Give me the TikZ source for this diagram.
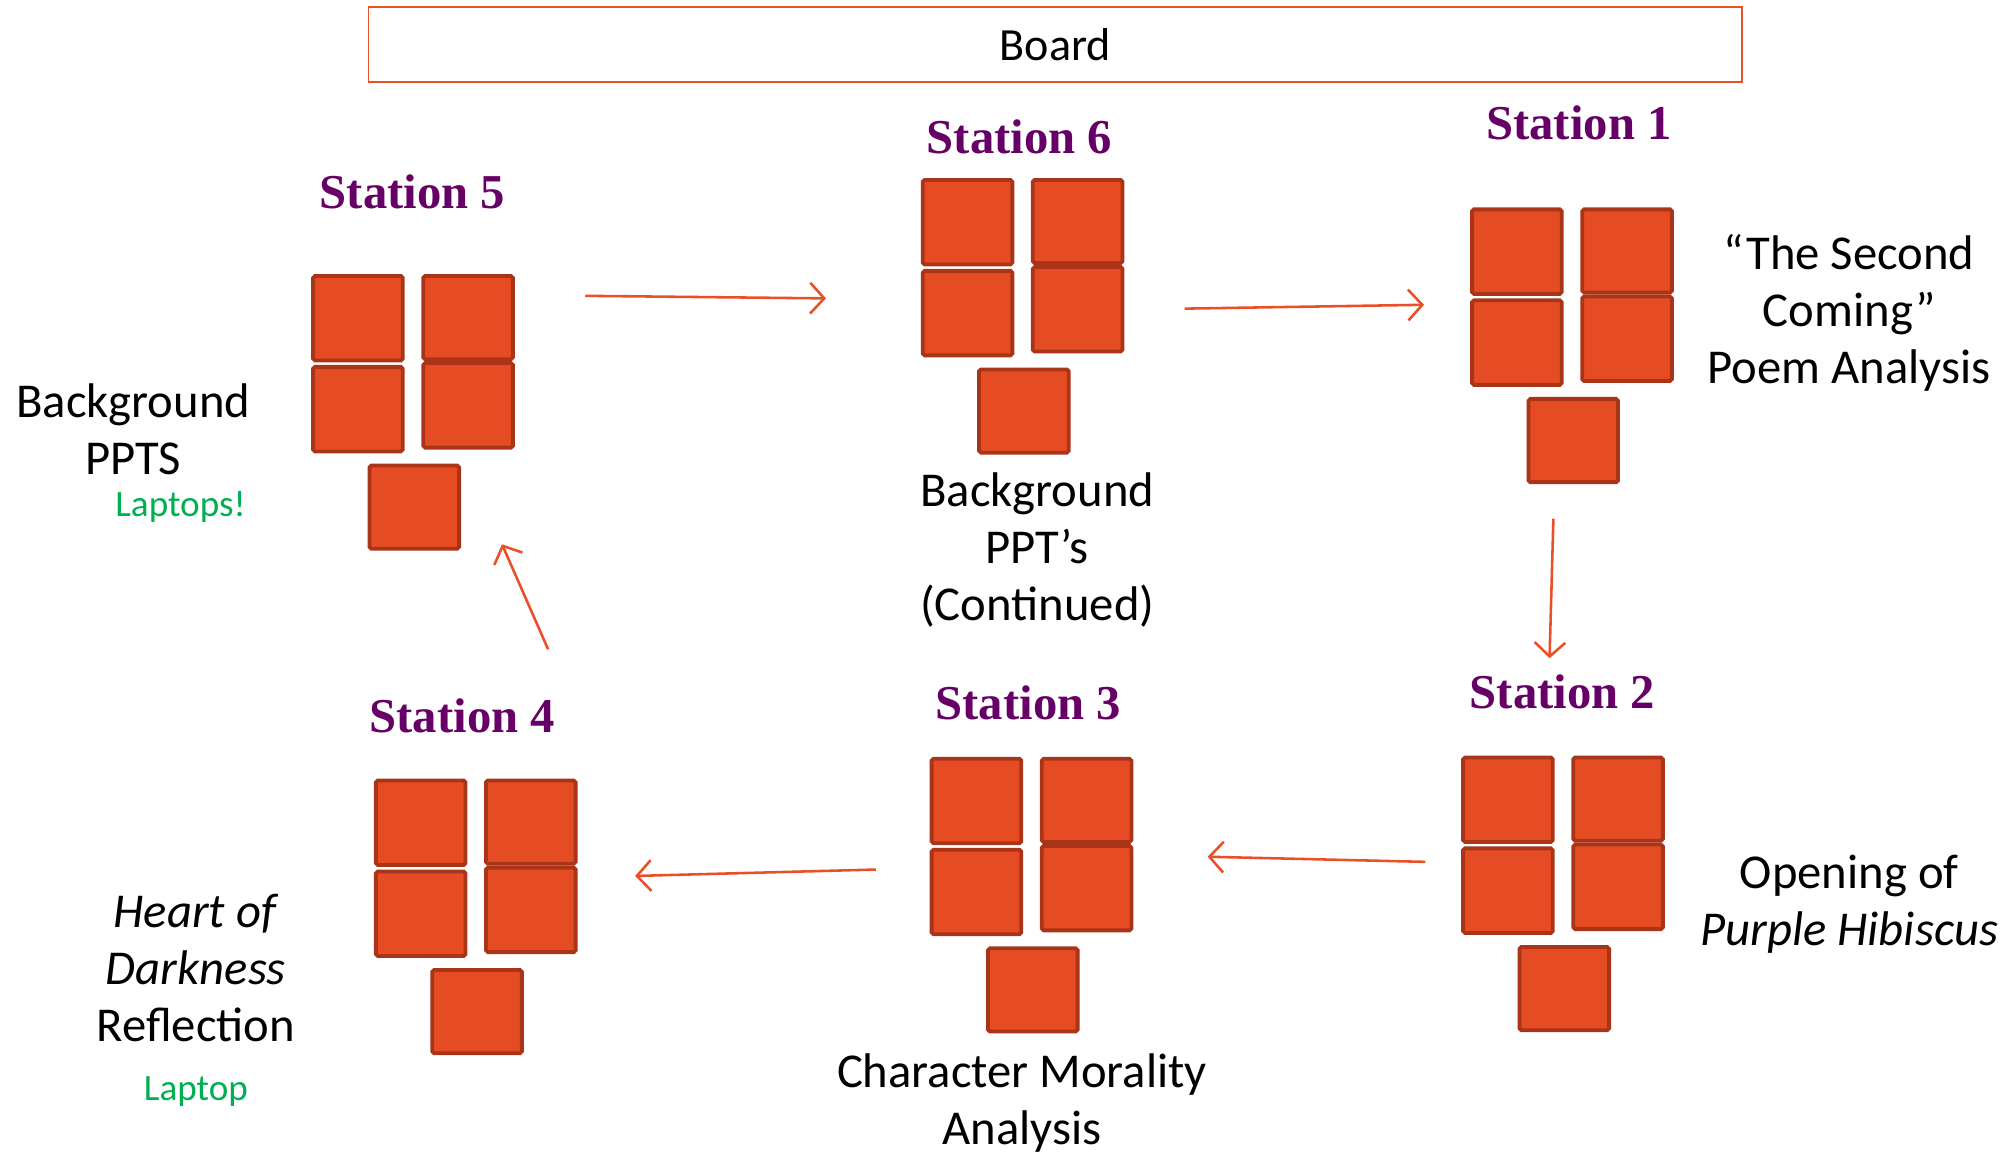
\documentclass[tikz,border=0pt]{standalone}
\usepackage{fontspec}
\setmainfont{Carlito}
\newfontfamily\stfont{Liberation Serif}
\usetikzlibrary{arrows.meta}
\definecolor{deskfill}{RGB}{230,76,36}
\definecolor{deskline}{RGB}{170,52,24}
\definecolor{flow}{RGB}{233,80,40}
\definecolor{stpurple}{RGB}{102,0,102}
\definecolor{lapgreen}{RGB}{0,176,80}
\tikzset{
  desk/.style={draw=deskline, fill=deskfill, line width=3bp, rounded corners=1.5bp, minimum width=70bp, inner sep=0pt},
  stlabel/.style={font=\stfont\bfseries\fontsize{38bp}{44bp}\selectfont, text=stpurple, inner sep=0pt},
  note/.style={font=\fontsize{38bp}{44.5bp}\selectfont, align=center, inner sep=0pt},
  lap/.style={font=\fontsize{29bp}{34bp}\selectfont, text=lapgreen, inner sep=0pt},
  flowarrow/.style={draw=flow, line width=2bp, -{Straight Barb[length=11bp,width=24bp,line width=2bp]}},
  boardbox/.style={draw=flow, line width=1.5bp, minimum width=1072.5bp, minimum height=58.5bp, font=\fontsize{36bp}{42bp}\selectfont},
}
\newcommand\deskgroup[3]{%
  \node[desk, minimum height=66bp] (#1l1) at ({#2+36.5},{#3+34.5}) {};
  \node[desk, minimum height=66bp] (#1l2) at ({#2+36.5},{#3+105.5}) {};
  \node[desk, minimum height=65bp] (#1r1) at ({#2+122.5},{#3+34}) {};
  \node[desk, minimum height=66bp] (#1r2) at ({#2+122.5},{#3+102.5}) {};
  \node[desk, minimum height=65bp] (#1b) at ({#2+80.5},{#3+182}) {};
}
\begin{document}
\begin{tikzpicture}[x=1bp,y=-1bp]
\useasboundingbox (0,0) rectangle (1568,902);
\node[boardbox] (board) at (824,35) {Board};

% station labels
\node[stlabel] (st5) at (322,150) {Station 5};
\node[stlabel] (st6) at (796,107) {Station 6};
\node[stlabel] (st1) at (1233,96) {Station 1};
\node[stlabel] (st2) at (1220,540) {Station 2};
\node[stlabel] (st3) at (803,549) {Station 3};
\node[stlabel] (st4) at (361,559) {Station 4};

% desks
\deskgroup{d5}{243}{214}
\deskgroup{d6}{719}{139}
\deskgroup{d1}{1148}{162}
\deskgroup{d2}{1141}{590}
\deskgroup{d3}{726}{591}
\deskgroup{d4}{292}{608}

% texts
\node[note] (t5) at (104,335) {Background\\PPTS};
\node[lap] (l5) at (141,396) {Laptops!};
\node[note] (t6) at (810,429.5) {Background\\PPT’s\\(Continued)};
\node[note] (t1) at (1444,244) {“The Second\\Coming”\\Poem Analysis};
\node[note] (t2) at (1444,706) {Opening of\\\textit{Purple Hibiscus}};
\node[note] (t4) at (153,756) {\textit{Heart of}\\\textit{Darkness}\\Reflection};
\node[lap] (l4) at (153,852) {Laptop};
\node[note] (t3) at (798,861) {Character Morality\\Analysis};

% arrow end points
\coordinate (a5s) at (457,231); \coordinate (a5e) at (645,233);
\coordinate (a6s) at (925,241); \coordinate (a6e) at (1112,238);
\coordinate (a1s) at (1213,405); \coordinate (a1e) at (1210,514);
\coordinate (a2s) at (1113,673); \coordinate (a2e) at (943,669);
\coordinate (a3s) at (684,679); \coordinate (a3e) at (496,684);
\coordinate (a4s) at (428,507); \coordinate (a4e) at (392,425);

\draw[flowarrow] (a5s) -- (a5e);
\draw[flowarrow] (a6s) -- (a6e);
\draw[flowarrow] (a1s) -- (a1e);
\draw[flowarrow] (a2s) -- (a2e);
\draw[flowarrow] (a3s) -- (a3e);
\draw[flowarrow] (a4s) -- (a4e);
\end{tikzpicture}
\end{document}
